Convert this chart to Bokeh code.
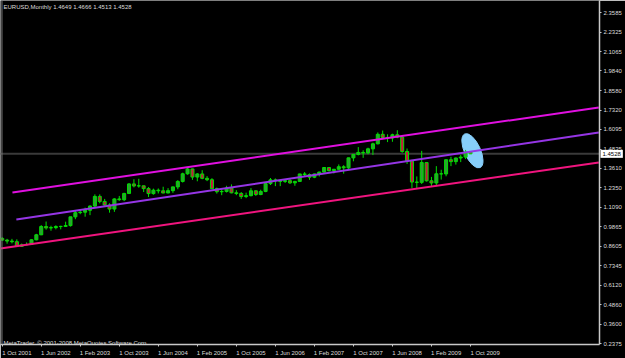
from bokeh.plotting import figure
from bokeh.models import (Range1d, LinearAxis, FixedTicker, NumeralTickFormatter,
                          Label, Span, ColumnDataSource)
from bokeh.embed import file_html
from bokeh.resources import INLINE

title_text = "EURUSD,Monthly  1.4649 1.4666 1.4513 1.4528"
copyright_text = "MetaTrader, \u00a9 2001-2008 MetaQuotes Software Corp."

# Monthly EURUSD bars, Oct 2001 .. Oct 2009
opens = [0.9110, 0.9000, 0.8940,
         0.8900, 0.8600, 0.8700, 0.8720, 0.9020, 0.9340, 0.9870, 0.9780, 0.9800, 0.9870, 0.9880, 0.9930,
         1.0490, 1.0760, 1.0790, 1.0910, 1.1180, 1.1800, 1.1480, 1.1250, 1.0990, 1.1640, 1.1590, 1.1990,
         1.2600, 1.2470, 1.2480, 1.2300, 1.1980, 1.2200, 1.2160, 1.2020, 1.2170, 1.2410, 1.2760, 1.3250,
         1.3560, 1.3040, 1.3240, 1.2960, 1.2870, 1.2300, 1.2100, 1.2120, 1.2340, 1.2030, 1.1990, 1.1790,
         1.1850, 1.2160, 1.1920, 1.2120, 1.2620, 1.2860, 1.2800, 1.2760, 1.2810, 1.2670, 1.2760, 1.3240,
         1.3200, 1.3030, 1.3240, 1.3360, 1.3650, 1.3450, 1.3540, 1.3700, 1.3630, 1.4270, 1.4490, 1.4620,
         1.4590, 1.4850, 1.5170, 1.5780, 1.5580, 1.5550, 1.5750, 1.5600, 1.4680, 1.4080, 1.2720, 1.2700,
         1.3970, 1.2800, 1.2660, 1.3250, 1.3240, 1.4150, 1.4030, 1.4260, 1.4320, 1.4649]
highs = [0.9185, 0.9080, 0.9080,
         0.9050, 0.8780, 0.8850, 0.9050, 0.9400, 0.9960, 1.0190, 0.9920, 0.9950, 0.9920, 1.0180, 1.0500,
         1.0900, 1.0940, 1.1080, 1.1230, 1.1930, 1.1930, 1.1640, 1.1360, 1.1680, 1.1830, 1.2030, 1.2650,
         1.2900, 1.2930, 1.2480, 1.2400, 1.2300, 1.2310, 1.2420, 1.2330, 1.2430, 1.2840, 1.3320, 1.3670,
         1.3580, 1.3290, 1.3480, 1.3100, 1.2970, 1.2370, 1.2250, 1.2480, 1.2570, 1.2200, 1.2080, 1.2040,
         1.2330, 1.2190, 1.2230, 1.2630, 1.2980, 1.2950, 1.2850, 1.2910, 1.2940, 1.2800, 1.3250, 1.3360,
         1.3270, 1.3260, 1.3380, 1.3680, 1.3650, 1.3540, 1.3850, 1.3800, 1.4280, 1.4520, 1.4960, 1.4760,
         1.4920, 1.5240, 1.5900, 1.6020, 1.5780, 1.5820, 1.6040, 1.5680, 1.4870, 1.4140, 1.3080, 1.4720,
         1.3980, 1.3050, 1.3740, 1.3510, 1.4160, 1.4340, 1.4290, 1.4450, 1.4780, 1.4666]
lows = [0.8950, 0.8770, 0.8790,
        0.8580, 0.8560, 0.8660, 0.8700, 0.8990, 0.9320, 0.9670, 0.9600, 0.9690, 0.9690, 0.9860, 0.9870,
        1.0340, 1.0660, 1.0500, 1.0600, 1.1120, 1.1360, 1.1200, 1.0760, 1.0810, 1.1520, 1.1500, 1.1950,
        1.2380, 1.2360, 1.2080, 1.1760, 1.1910, 1.1990, 1.2000, 1.2000, 1.2030, 1.2260, 1.2690, 1.3190,
        1.2860, 1.2770, 1.2900, 1.2780, 1.2290, 1.1980, 1.1880, 1.2050, 1.2000, 1.1880, 1.1640, 1.1690,
        1.1800, 1.1830, 1.1880, 1.2070, 1.2530, 1.2460, 1.2460, 1.2660, 1.2600, 1.2480, 1.2760, 1.3080,
        1.2860, 1.2970, 1.3080, 1.3330, 1.3400, 1.3270, 1.3520, 1.3260, 1.3560, 1.4050, 1.4430, 1.4270,
        1.4500, 1.4450, 1.5140, 1.5530, 1.5280, 1.5300, 1.5530, 1.4600, 1.3880, 1.2330, 1.2330, 1.2600,
        1.2750, 1.2460, 1.2460, 1.2880, 1.3090, 1.3740, 1.3840, 1.4000, 1.4190, 1.4513]
closes = [0.9000, 0.8940, 0.8900,
          0.8600, 0.8700, 0.8720, 0.9020, 0.9340, 0.9870, 0.9780, 0.9800, 0.9870, 0.9880, 0.9930, 1.0490,
          1.0760, 1.0790, 1.0910, 1.1180, 1.1800, 1.1480, 1.1250, 1.0990, 1.1640, 1.1590, 1.1990, 1.2600,
          1.2470, 1.2480, 1.2300, 1.1980, 1.2200, 1.2160, 1.2020, 1.2170, 1.2410, 1.2760, 1.3250, 1.3560,
          1.3040, 1.3240, 1.2960, 1.2870, 1.2300, 1.2100, 1.2120, 1.2340, 1.2030, 1.1990, 1.1790, 1.1850,
          1.2160, 1.1920, 1.2120, 1.2620, 1.2860, 1.2800, 1.2760, 1.2810, 1.2670, 1.2760, 1.3240, 1.3200,
          1.3030, 1.3240, 1.3360, 1.3650, 1.3450, 1.3540, 1.3700, 1.3630, 1.4270, 1.4490, 1.4620, 1.4590,
          1.4850, 1.5170, 1.5780, 1.5580, 1.5550, 1.5750, 1.5600, 1.4680, 1.4080, 1.2720, 1.2700, 1.3970,
          1.2800, 1.2660, 1.3250, 1.3240, 1.4150, 1.4030, 1.4260, 1.4320, 1.4640, 1.4528]

date_labels = ["1 Oct 2001", "1 Jun 2002", "1 Feb 2003", "1 Oct 2003", "1 Jun 2004",
               "1 Feb 2005", "1 Oct 2005", "1 Jun 2006", "1 Feb 2007", "1 Oct 2007",
               "1 Jun 2008", "1 Feb 2009", "1 Oct 2009"]
date_label_bars = [0, 8, 16, 24, 32, 40, 48, 56, 64, 72, 80, 88, 96]

price_ticks = [2.3585, 2.2325, 2.1065, 1.9840, 1.8580, 1.7320, 1.6095, 1.4835, 1.3610,
               1.2350, 1.1090, 0.9865, 0.8605, 0.7345, 0.6120, 0.4860, 0.3600, 0.2375]

last_price = 1.4528

# trend channel anchors (bar index, price)
upper_x = [2.1, 122.3]
upper_y = [1.2052, 1.7498]
middle_x = [2.9, 122.3]
middle_y = [1.0322, 1.5896]
lower_x = [-0.35, 122.3]
lower_y = [0.8464, 1.3974]

ellipse_x = [96.4]
ellipse_y = [1.4723]

# ---------------------------------------------------------------
FONT = "Liberation Sans"
FS = "6px"
AXIS_COL = "#C8C8C8"
TEXT_COL = "#DCDCDC"
X0, X1 = -0.35, 122.45
Y0, Y1 = 0.2311, 2.4354

bars = list(range(len(opens)))
src = ColumnDataSource(dict(
    x=bars, high=highs, low=lows,
    top=[max(o, c) for o, c in zip(opens, closes)],
    bottom=[min(o, c) for o, c in zip(opens, closes)],
    fill=["#2E9E34" if c >= o else "#C8173E" for o, c in zip(opens, closes)],
))

p = figure(frame_width=599, frame_height=344,
           x_range=Range1d(X0, X1), y_range=Range1d(Y0, Y1),
           output_backend="svg", toolbar_location=None,
           x_axis_location=None, y_axis_location=None,
           min_border_left=0, min_border_top=0, min_border_right=26, min_border_bottom=14,
           background_fill_color="black", border_fill_color="black",
           outline_line_color=None)
p.grid.visible = False

# right price axis
yaxis = LinearAxis(ticker=FixedTicker(ticks=price_ticks),
                   formatter=NumeralTickFormatter(format="0.0000"),
                   axis_line_color=AXIS_COL, axis_line_width=1.5,
                   major_tick_line_color=AXIS_COL, major_tick_out=2, major_tick_in=0,
                   minor_tick_out=0, minor_tick_in=0,
                   major_label_standoff=2, major_label_text_color=TEXT_COL,
                   major_label_text_font=FONT, major_label_text_font_size=FS)
p.add_layout(yaxis, "right")

# bottom time axis (labels start at their tick, as in MetaTrader)
label_shift = 3
xaxis = LinearAxis(ticker=FixedTicker(ticks=[b + label_shift for b in date_label_bars],
                                      minor_ticks=date_label_bars),
                   major_label_overrides={b + label_shift: t for b, t in zip(date_label_bars, date_labels)},
                   axis_line_color=AXIS_COL, axis_line_width=1.5,
                   major_tick_out=0, major_tick_in=0,
                   minor_tick_line_color=AXIS_COL, minor_tick_out=2, minor_tick_in=0,
                   major_label_standoff=3, major_label_text_color=TEXT_COL,
                   major_label_text_font=FONT, major_label_text_font_size=FS)
p.add_layout(xaxis, "below")

# left frame edge
p.add_layout(Span(location=-0.05, dimension="height", line_color="#7A7A7A", line_width=1))

# ellipse object (drawn as background)
p.ellipse(x=ellipse_x, y=ellipse_y, width=37, height=16, angle=114.6, angle_units="deg",
          width_units="screen", height_units="screen",
          fill_color="#87CEFA", line_color="#87CEFA")

# bid line
p.add_layout(Span(location=last_price, dimension="width", line_color="#3A3A3A",
                  line_width=2, level="underlay"))

# candles
p.segment(x0="x", y0="low", x1="x", y1="high", source=src, line_color="#00E000", line_width=1)
p.vbar(x="x", width=0.62, top="top", bottom="bottom", source=src,
       fill_color="fill", line_color="#00E000", line_width=1)

# channel
p.line(upper_x, upper_y, line_color="#E010E0", line_width=2)
p.line(middle_x, middle_y, line_color="#9535E5", line_width=2)
p.line(lower_x, lower_y, line_color="#F0147E", line_width=2)

# texts
p.add_layout(Label(x=3, y=341, x_units="screen", y_units="screen", text=title_text,
                   text_color=TEXT_COL, text_font=FONT, text_font_size=FS,
                   text_baseline="top", text_align="left"))
p.add_layout(Label(x=3, y=1.5, x_units="screen", y_units="screen", text=copyright_text,
                   text_color=TEXT_COL, text_font=FONT, text_font_size=FS,
                   text_baseline="alphabetic", text_align="left"))
# current price box, placed in the right-hand panel beside the price scale
p.add_layout(Label(x=X1, y=last_price, x_offset=1,
                   text="%.4f" % last_price,
                   text_color="black", background_fill_color="white",
                   text_font=FONT, text_font_size=FS, text_baseline="middle",
                   text_align="left", padding=2), "right")

open("out.html", "w").write(file_html(p, INLINE))
